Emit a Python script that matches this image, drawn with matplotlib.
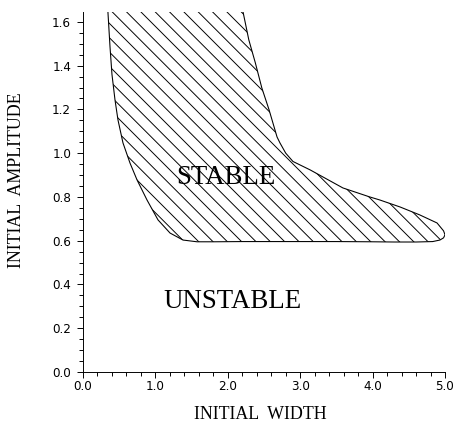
import matplotlib.pyplot as plt
from matplotlib.patches import Polygon
from matplotlib.ticker import MultipleLocator, FormatStrFormatter

# boundary of the stable region (initial width, initial amplitude)
left_w = [0.34, 0.345, 0.373, 0.40, 0.442, 0.483, 0.552, 0.649, 0.746, 0.884, 1.036,
          1.202, 1.381, 1.575, 1.8]
left_a = [1.70, 1.641, 1.486, 1.36, 1.243, 1.152, 1.047, 0.955, 0.878, 0.786, 0.695,
          0.635, 0.603, 0.595, 0.595]
bottom_w = [2.2, 2.6, 3.0, 3.5, 4.0, 4.3, 4.6, 4.83]
bottom_a = [0.596, 0.596, 0.596, 0.596, 0.595, 0.594, 0.594, 0.596]
right_w = [4.93, 4.98, 5.0, 4.98, 4.89, 4.65, 4.38, 4.10, 3.96, 3.59, 3.14, 2.9, 2.80,
           2.72, 2.68, 2.57, 2.47, 2.38, 2.29, 2.21, 2.20]
right_a = [0.603, 0.613, 0.627, 0.645, 0.681, 0.718, 0.754, 0.786, 0.800, 0.841, 0.923,
           0.962, 1.0, 1.047, 1.074, 1.198, 1.298, 1.413, 1.518, 1.646, 1.70]

stable_label = ("STABLE", 1.975, 0.887)
unstable_label = ("UNSTABLE", 2.07, 0.32)

dpi = 86
plt.rcParams['hatch.linewidth'] = 0.8
fig = plt.figure(figsize=(454 / dpi, 423 / dpi), dpi=dpi)
ax = fig.add_axes([83 / 454, 1 - 372 / 423, 362 / 454, 360 / 423])

pts = list(zip(left_w + bottom_w + right_w, left_a + bottom_a + right_a))
region = Polygon(pts, closed=True, facecolor='none', edgecolor='black',
                 hatch='\\\\', linewidth=0.9)
ax.add_patch(region)

for txt, x, y in (stable_label, unstable_label):
    ax.text(x, y, txt, ha='center', va='center', fontsize=22.5,
            family='Liberation Serif')

ax.set_xlim(0, 5.0)
ax.set_ylim(0, 1.645)
ax.spines['top'].set_visible(False)
ax.spines['right'].set_visible(False)
ax.xaxis.set_major_locator(MultipleLocator(1.0))
ax.xaxis.set_minor_locator(MultipleLocator(0.2))
ax.yaxis.set_major_locator(MultipleLocator(0.2))
ax.yaxis.set_minor_locator(MultipleLocator(0.05))
ax.xaxis.set_major_formatter(FormatStrFormatter('%.1f'))
ax.yaxis.set_major_formatter(FormatStrFormatter('%.1f'))
ax.tick_params(which='major', length=5, width=0.8, labelsize=10, pad=2)
ax.tick_params(which='minor', length=3, width=0.8)
ax.tick_params(axis='y', pad=5)

ax.set_xlabel("INITIAL  WIDTH", family='Liberation Serif', fontsize=15)
ax.set_ylabel("INITIAL  AMPLITUDE", family='Liberation Serif', fontsize=15)
ax.xaxis.set_label_coords(0.49, -0.095)
ax.yaxis.set_label_coords(-0.16, 0.533)

fig.savefig("out.png", dpi=dpi)
